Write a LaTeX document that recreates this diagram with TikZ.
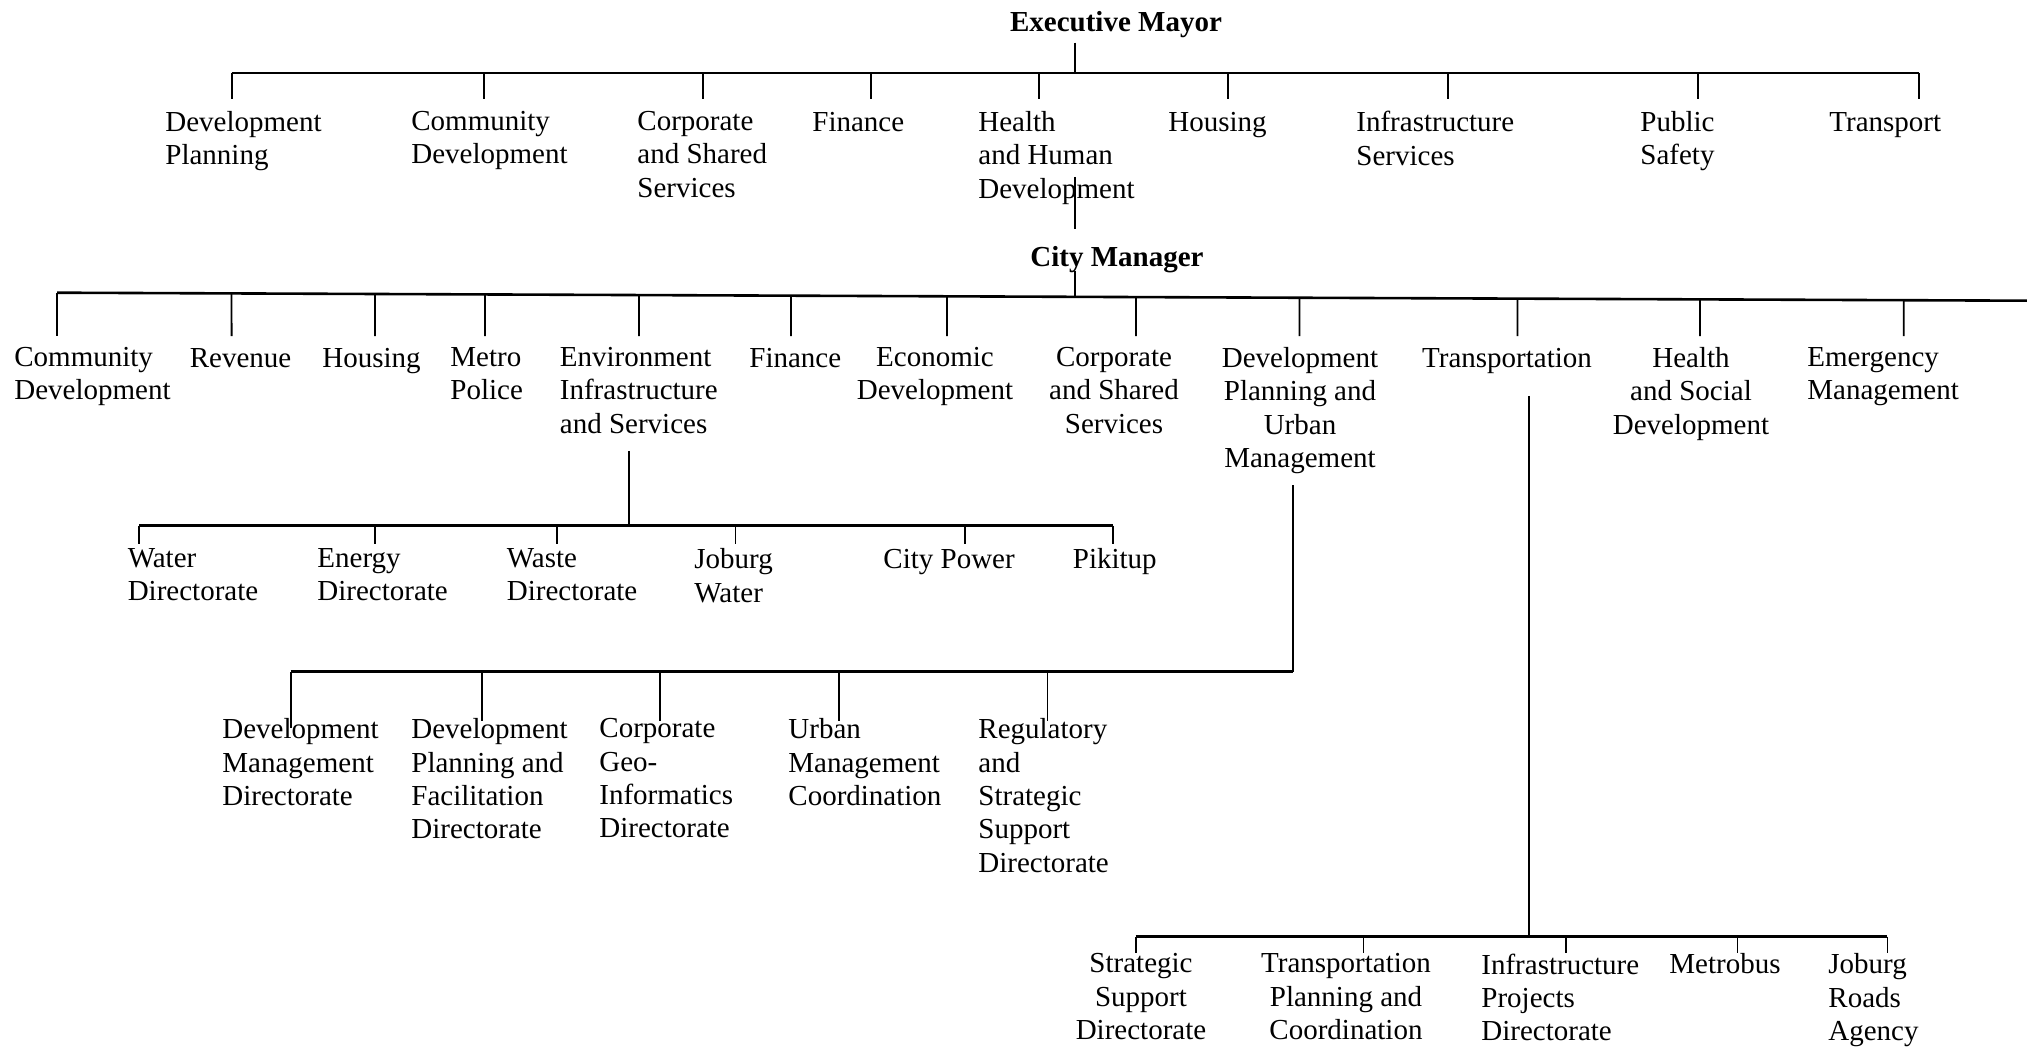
\documentclass[tikz,border=0pt]{standalone}
\usepackage{fontspec}
\setmainfont{Liberation Serif}
\usetikzlibrary{calc}

\begin{document}
\begin{tikzpicture}[x=0.5pt, y=-0.5pt, font=\fontsize{14.5}{16.65}\selectfont]

        % --- Styles ---
        \tikzset{
            bossNode/.style={anchor=base, font=\fontsize{14.5}{16.65}\selectfont\bfseries, inner sep=2pt},
            unitNode/.style={inner xsep=0pt, execute at begin node={\rule{0pt}{10pt}}},
            headNode/.style={unitNode, anchor=north west, align=left, inner ysep=6pt, yshift=16pt},
            deptL/.style={unitNode, anchor=north west, align=left, inner ysep=5.5pt, yshift=15.5pt},
            deptC/.style={unitNode, anchor=north, align=center, inner ysep=5.5pt, yshift=15.5pt},
            envNode/.style={unitNode, anchor=north west, align=left, inner ysep=2pt, yshift=12pt},
            dirNode/.style={unitNode, anchor=north west, align=left, inner ysep=0pt, yshift=10pt},
            trL/.style={unitNode, anchor=north west, align=left, inner ysep=0pt, yshift=10pt},
            trC/.style={unitNode, anchor=north, align=center, inner ysep=0pt, yshift=10pt},
            barLine/.style={line width=1.3pt},
            tickLine/.style={line width=0.9pt},
            linkLine/.style={line width=0.65pt}
        }

        \useasboundingbox (0,0) rectangle (2027,1048);
        \fill[white] (0,0) rectangle (2027,1048);

        % --- Executive Mayor ---
        \node[bossNode] (mayor) at (1116,32) {Executive Mayor};
        \coordinate (mL) at (231.6,73);
        \coordinate (mR) at (1918.6,73);
        \coordinate (mHub) at (1075,73);
        \draw[barLine] (mL) -- (mR);
        \draw[linkLine] (mayor.south -| mHub) -- (mHub);

        \node[headNode] (mDP)  at (165,131)  {Development\\Planning};
        \node[headNode] (mCD)  at (411,131)  {Community\\Development};
        \node[headNode] (mCS)  at (637,131)  {Corporate\\and Shared\\Services};
        \node[headNode] (mFin) at (812,131)  {Finance};
        \node[headNode] (mHHD) at (978,131)  {Health\\and Human\\Development};
        \node[headNode] (mHou) at (1168,131) {Housing};
        \node[headNode] (mInf) at (1356,131) {Infrastructure\\Services};
        \node[headNode] (mPS)  at (1640,131) {Public\\Safety};
        \node[headNode] (mTr)  at (1829,131) {Transport};

        \foreach \x/\n in {231.6/mDP, 483.8/mCD, 703/mCS, 871/mFin, 1039/mHHD,
                           1228/mHou, 1448/mInf, 1698/mPS, 1918.6/mTr}
            \draw[tickLine] (\x,0 |- mL) -- (\x,0 |- \n.north);

        % --- City Manager ---
        \node[bossNode] (cm) at (1117,266) {City Manager};
        \coordinate (hhdLink) at (1075,177);
        \coordinate (cmL) at (57,292.7);
        \coordinate (cmR) at (2027,300.7);
        \coordinate (cmHub) at ($(cmL)!{(1075-57)/1970}!(cmR)$);
        \draw[barLine] (cmL) -- (cmR);
        \draw[linkLine] (hhdLink) -- ([yshift=6pt]hhdLink |- cm.north);
        \draw[linkLine] ([yshift=3pt]cm.south -| cmHub) -- (cmHub);

        \node[deptL] (cCD)  at (14,367)    {Community\\Development};
        \node[deptL] (cRev) at (189.5,367) {Revenue};
        \node[deptL] (cHou) at (322,367)   {Housing};
        \node[deptL] (cMP)  at (450,367)   {Metro\\Police};
        \node[deptL] (cEIS) at (559.5,367) {Environment\\Infrastructure\\and Services};
        \node[deptL] (cFin) at (749,367)   {Finance};
        \node[deptC] (cED)  at (935,367)   {Economic\\Development};
        \node[deptC] (cCS)  at (1114,367)  {Corporate\\and Shared\\Services};
        \node[deptC] (cDP)  at (1300,367)  {Development\\Planning and\\Urban\\Management};
        \node[deptC] (cTr)  at (1507,367)  {Transportation};
        \node[deptC] (cHSD) at (1691,367)  {Health\\and Social\\Development};
        \node[deptL] (cEM)  at (1807,367)  {Emergency\\Management};

        \foreach \x/\n in {57/cCD, 231.6/cRev, 375/cHou, 485/cMP, 639/cEIS, 791/cFin,
                           947/cED, 1136/cCS, 1299.5/cDP, 1517.5/cTr, 1700/cHSD, 1903.7/cEM}
            \draw[tickLine] ($(cmL)!{(\x-57)/1970}!(cmR)$) -- (\x,0 |- \n.north);

        % --- Environment Infrastructure and Services ---
        \coordinate (eL) at (139,525.7);
        \coordinate (eR) at (1113,525.7);
        \coordinate (eHub) at (629,525.7);
        \draw[barLine] (eL) -- (eR);
        \draw[linkLine] ([yshift=-3pt]cEIS.south -| eHub) -- (eHub);

        \node[envNode] (eWat) at (127.4,568.3) {Water\\Directorate};
        \node[envNode] (eEn)  at (317,568.3)   {Energy\\Directorate};
        \node[envNode] (eWas) at (506.5,568.3) {Waste\\Directorate};
        \node[envNode] (eJW)  at (694,568.3)   {Joburg\\Water};
        \node[envNode] (eCP)  at (883,568.3)   {City Power};
        \node[envNode] (ePik) at (1072.5,568.3) {Pikitup};

        \foreach \x/\n in {139/eWat, 375/eEn, 557/eWas, 735.5/eJW, 965/eCP, 1113/ePik}
            \draw[tickLine] (\x,0 |- eL) -- (\x,0 |- \n.north);

        % --- Development Planning and Urban Management ---
        \coordinate (dL) at (290.7,671.7);
        \coordinate (dHub) at (1293,671.7);
        \draw[barLine] (dL) -- (dHub);
        \draw[linkLine] (cDP.south -| dHub) -- (dHub);

        \node[dirNode] (dDM)  at (222,738.3) {Development\\Management\\Directorate};
        \node[dirNode] (dDPF) at (411,738.3) {Development\\Planning and\\Facilitation\\Directorate};
        \node[dirNode] (dCGI) at (599,738.3) {Corporate\\Geo-\\Informatics\\Directorate};
        \node[dirNode] (dUMC) at (788,738.3) {Urban\\Management\\Coordination};
        \node[dirNode] (dRSS) at (978,738.3) {Regulatory\\and\\Strategic\\Support\\Directorate};

        \draw[tickLine] (290.7,0 |- dL) -- ([yshift=-5pt]290.7,0 |- dDM.north);
        \foreach \x/\n in {482/dDPF, 660/dCGI, 839/dUMC, 1047.5/dRSS}
            \draw[tickLine] (\x,0 |- dL) -- ([yshift=-1.5pt]\x,0 |- \n.north);

        % --- Transportation ---
        \coordinate (tL) at (1135.6,936.7);
        \coordinate (tR) at (1887.4,936.7);
        \coordinate (tHub) at (1529,936.7);
        \draw[barLine] (tL) -- (tR);
        \draw[linkLine] ([yshift=-5.5pt]cTr.south -| tHub) -- (tHub);

        \node[trC] (tSSD) at (1141,973.3) {Strategic\\Support\\Directorate};
        \node[trC] (tTPC) at (1346,973.3) {Transportation\\Planning and\\Coordination};
        \node[trL] (tIPD) at (1481,973.3) {Infrastructure\\Projects\\Directorate};
        \node[trL] (tMet) at (1669,973.3) {Metrobus};
        \node[trL] (tJRA) at (1828,973.3) {Joburg\\Roads\\Agency};

        \foreach \x/\n in {1135.6/tSSD, 1363.5/tTPC, 1565.8/tIPD, 1737.4/tMet, 1887.4/tJRA}
            \draw[tickLine] (\x,0 |- tL) -- (\x,0 |- \n.north);

\end{tikzpicture}
\end{document}
